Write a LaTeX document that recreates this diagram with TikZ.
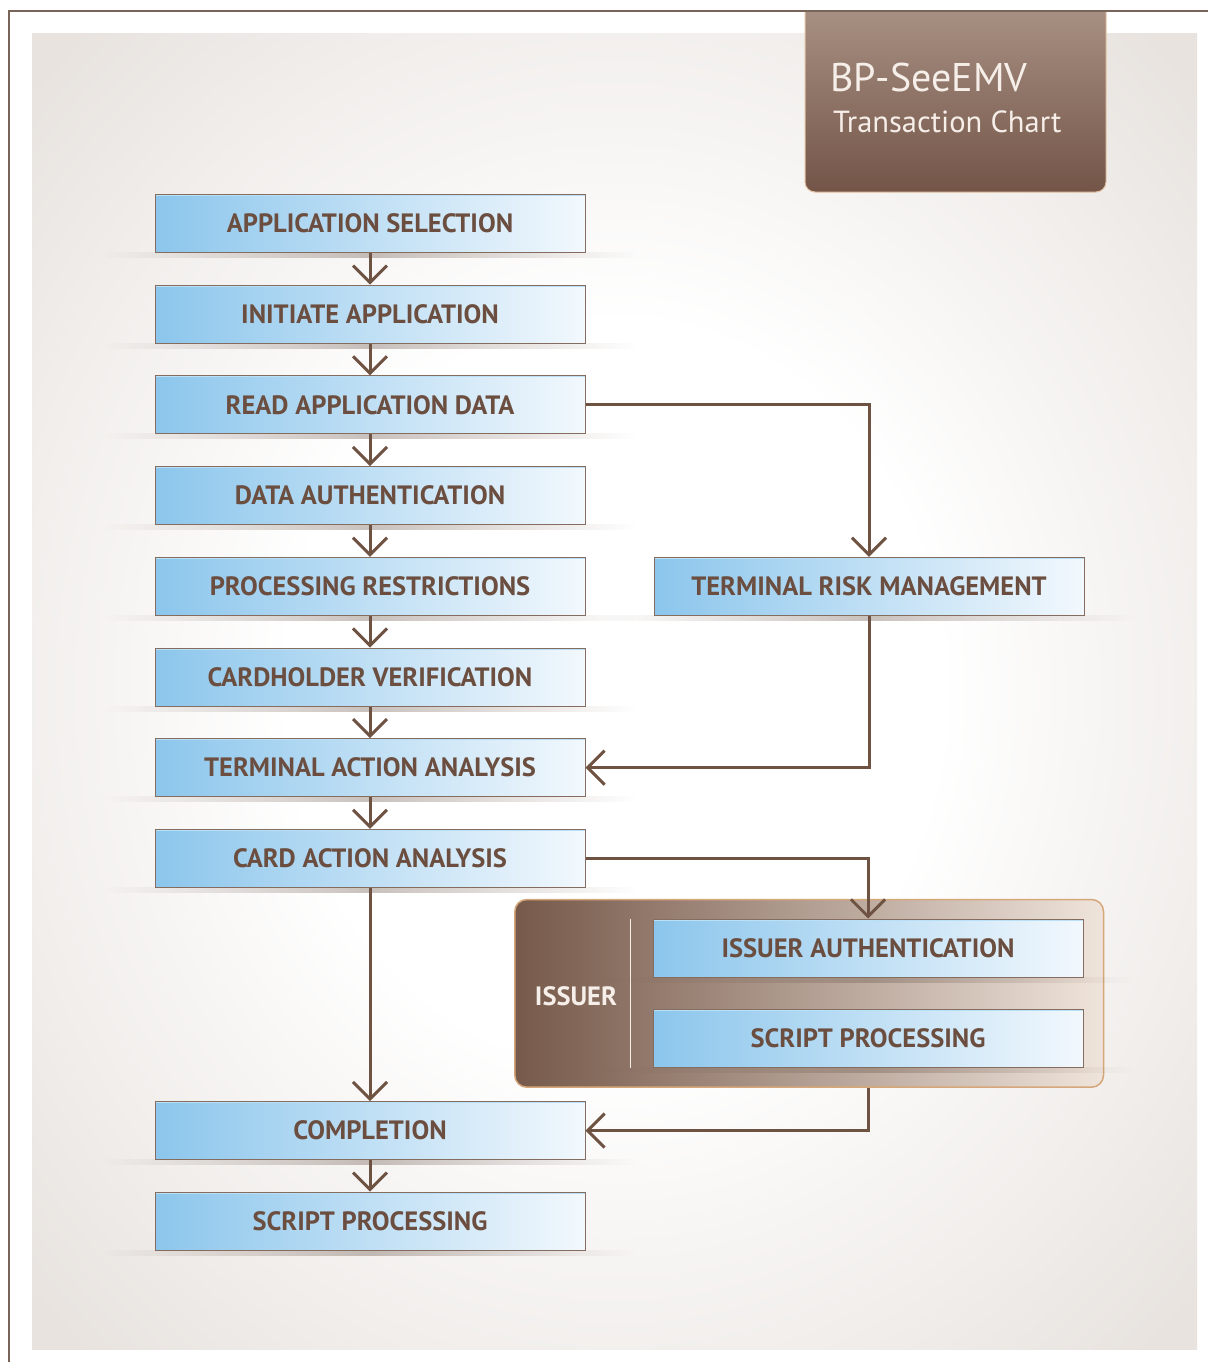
\documentclass[tikz,border=0pt]{standalone}
\usepackage{fontspec}
\setmainfont{PT Sans}
\usetikzlibrary{positioning}
\usetikzlibrary{fit}
\usetikzlibrary{arrows.meta}
\usetikzlibrary{fadings}

\definecolor{textbrown}{HTML}{6B4E3F}
\definecolor{linebrown}{HTML}{6E5242}
\definecolor{bgouter}{HTML}{E8E3DF}
\definecolor{boxblue}{HTML}{8CC6EC}
\definecolor{boxwhite}{HTML}{F2F8FD}
\definecolor{boxtop}{HTML}{B9E0F7}
\definecolor{framec}{HTML}{786459}
\definecolor{titletop}{HTML}{AF998B}
\definecolor{titlebot}{HTML}{735548}
\definecolor{issdark}{HTML}{76594A}
\definecolor{isslight}{HTML}{EFE4DB}
\definecolor{issedge}{HTML}{D6A77A}
\definecolor{paletext}{HTML}{F6EEE8}

\pgfdeclareradialshading{bgglow}{\pgfpoint{0bp}{0bp}}{color(0bp)=(white); color(14bp)=(white); color(34bp)=(bgouter); color(50bp)=(bgouter)}
\tikzfading[name=sidefade, left color=transparent!100, right color=transparent!100, middle color=transparent!60]

\pgfdeclarelayer{back}
\pgfdeclarelayer{mid}
\pgfsetlayers{back,mid,main}

\begin{document}
\begin{tikzpicture}[x=1pt, y=-1pt,
						node distance = 31.7pt,
						stepbox/.style={draw=linebrown!85, line width=1pt,
							left color=boxblue, right color=boxwhite,
							minimum width=430pt, minimum height=58pt, inner sep=0pt,
							font=\fontsize{26.5}{30}\selectfont\bfseries, text=textbrown,
							path picture={\draw[boxtop, line width=3pt]
								(path picture bounding box.north west) -- (path picture bounding box.north east);}},
						issuerpanel/.style={draw=issedge, line width=1.5pt, rounded corners=12pt,
							left color=issdark, right color=isslight, inner xsep=20pt, inner ysep=19pt},
						titletext/.style={text=paletext, inner sep=0pt, anchor=base west},
						flow/.style={draw=linebrown, line width=3pt, -{Straight Barb[length=17pt, width=34pt]}},
						boxshadow/.style={fill=framec, path fading=sidefade}]
		\useasboundingbox (0,0) rectangle (1208,1362);
		\begin{pgfonlayer}{back}
			\fill[white] (0,0) rectangle (1208,1362);
			\shade[shading=bgglow] (32,34) rectangle (1197,1349);
			\begin{scope}
				\clip (0,11) rectangle (1208,1362);
				\shade[top color=titletop, bottom color=titlebot, rounded corners=10pt]
					(805,-20) -- (805,192) -- (1106,192) -- (1106,-20) -- cycle;
				\draw[issedge!70, line width=1pt, rounded corners=10pt]
					(805,-20) -- (805,192) -- (1106,192) -- (1106,-20);
			\end{scope}
			\draw[framec, line width=1.5pt] (9,1362) -- (9,11) -- (1208,11);
		\end{pgfonlayer}

		% title
		\node [titletext, font=\fontsize{40}{44}\selectfont] (title) at (830,92) {BP-SeeEMV};
		\node [titletext, font=\fontsize{30.5}{34}\selectfont] (subtitle) at (833,132) {Transaction Chart};

		% main column
		\node [stepbox] (appsel) at (370,223.5) {APPLICATION SELECTION};
		\node [stepbox, below=of appsel] (initapp) {INITIATE APPLICATION};
		\node [stepbox, below=of initapp] (readdata) {READ APPLICATION DATA};
		\node [stepbox, below=of readdata] (dataauth) {DATA AUTHENTICATION};
		\node [stepbox, below=of dataauth] (procrestr) {PROCESSING RESTRICTIONS};
		\node [stepbox, below=of procrestr] (cardholder) {CARDHOLDER VERIFICATION};
		\node [stepbox, below=of cardholder] (termaction) {TERMINAL ACTION ANALYSIS};
		\node [stepbox, below=of termaction] (cardaction) {CARD ACTION ANALYSIS};
		\node [stepbox, below=213.1pt of cardaction] (completion) {COMPLETION};
		\node [stepbox, below=of completion] (scriptproc) {SCRIPT PROCESSING};

		% right column
		\node [stepbox, right=68pt of procrestr] (termrisk) {TERMINAL RISK MANAGEMENT};
		\node [stepbox] (issauth) at (868,948) {ISSUER AUTHENTICATION};
		\node [stepbox, below=of issauth] (issscript) {SCRIPT PROCESSING};
		\node [text=paletext, inner sep=0pt, font=\fontsize{26.5}{30}\selectfont\bfseries] (issuerlbl) at (576,996) {ISSUER};

		\begin{pgfonlayer}{mid}
			\node [issuerpanel, fit=(issuerlbl) (issauth) (issscript)] (issuer) {};
			\draw [paletext, line width=1pt] ([xshift=-22pt]issauth.north west) -- ([xshift=-22pt]issscript.south west);
			\foreach \n in {appsel,initapp,readdata,dataauth,procrestr,cardholder,termaction,cardaction,completion,scriptproc,termrisk,issauth,issscript}
				\fill [boxshadow] ([xshift=-50pt, yshift=1pt]\n.south west) rectangle ([xshift=50pt, yshift=-5pt]\n.south east);
		\end{pgfonlayer}

		\foreach \a/\b in {appsel/initapp,initapp/readdata,readdata/dataauth,dataauth/procrestr,procrestr/cardholder,cardholder/termaction,termaction/cardaction,cardaction/completion,completion/scriptproc}
			\draw [flow] (\a) -- (\b);
		\draw [flow] (readdata.east) -| (termrisk.north);
		\draw [flow] (termrisk.south) |- (termaction.east);
		\draw [flow] (cardaction.east) -| (issauth.north);
		\draw [flow] (issuer.south -| issauth.south) |- (completion.east);
	\end{tikzpicture}
\end{document}
